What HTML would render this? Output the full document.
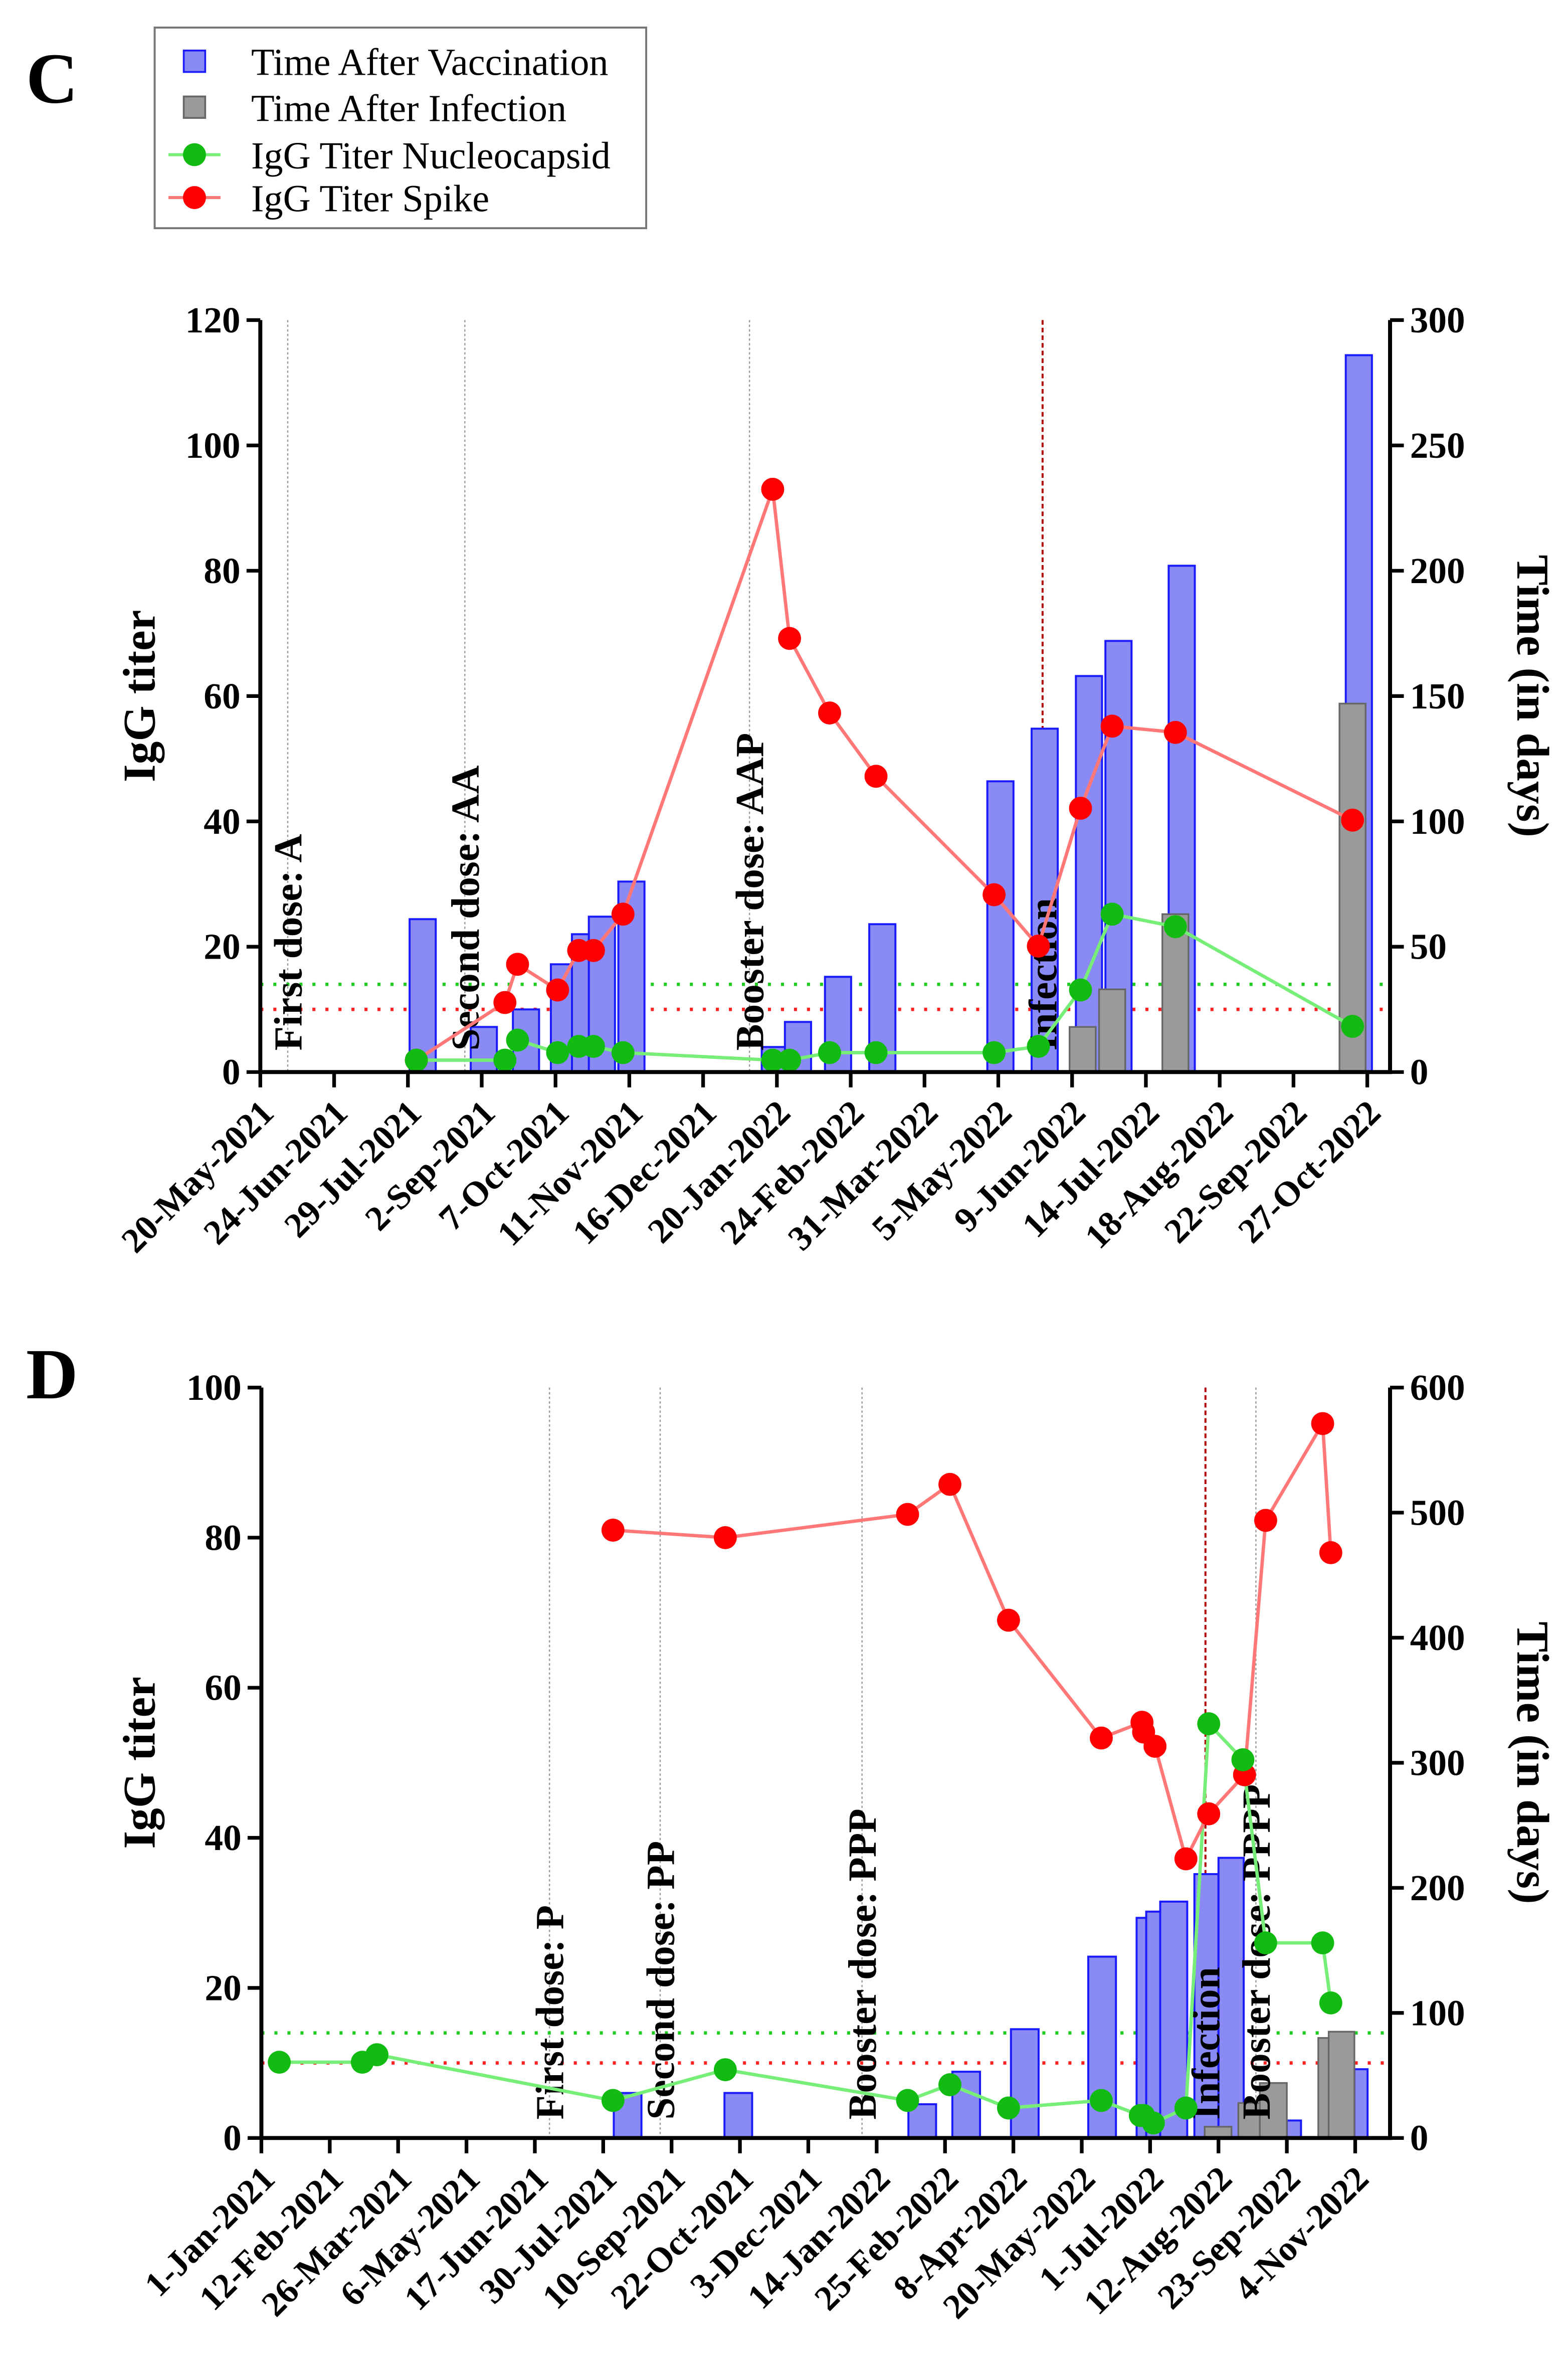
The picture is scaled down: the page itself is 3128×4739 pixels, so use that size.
<!DOCTYPE html>
<html><head><meta charset="utf-8"><title>IgG titer charts</title>
<style>
html,body{margin:0;padding:0;background:#fff;}
svg{display:block;}
text{font-family:"Liberation Serif",serif;}
</style></head>
<body>
<svg id="fig" xmlns="http://www.w3.org/2000/svg" width="3128" height="4739" viewBox="0 0 1024 1551.4">
<rect x="0" y="0" width="1024" height="1551.4" fill="#fff"/>
<text x="17" y="67" font-size="47" font-weight="bold">C</text>
<text x="17" y="913" font-size="47" font-weight="bold">D</text>
<g>
<rect x="101" y="18" width="321" height="131" fill="#fff" stroke="#777" stroke-width="1.3"/>
<g><rect x="120" y="33" width="14" height="14" fill="#8a8af5" stroke="#1a1aff" stroke-width="1.2"/><text x="164" y="49" font-size="25">Time After Vaccination</text></g>
<g><rect x="120" y="63" width="14" height="14" fill="#9a9a9a" stroke="#666" stroke-width="1.2"/><text x="164" y="79" font-size="25">Time After Infection</text></g>
<g><line x1="110" y1="101" x2="144" y2="101" stroke="#77ee77" stroke-width="2"/><circle cx="127" cy="101" r="7.5" fill="#11bb11"/><text x="164" y="110" font-size="25">IgG Titer Nucleocapsid</text></g>
<g><line x1="110" y1="129" x2="144" y2="129" stroke="#ff7777" stroke-width="2"/><circle cx="127" cy="129" r="7.5" fill="#ff0000"/><text x="164" y="138" font-size="25">IgG Titer Spike</text></g>
</g>
<g id="chartC"></g>
<g id="chartD"></g>
</svg>
<script>
// ---------- Chart C data (days since 20-May-2021) ----------
const cTickLabels = ["20-May-2021","24-Jun-2021","29-Jul-2021","2-Sep-2021","7-Oct-2021","11-Nov-2021","16-Dec-2021","20-Jan-2022","24-Feb-2022","31-Mar-2022","5-May-2022","9-Jun-2022","14-Jul-2022","18-Aug-2022","22-Sep-2022","27-Oct-2022"];
const cSpikeDays = [74,116,122,141,151,158,172,243,251,270,292,348,369,389,404,434,518];
const cSpikeVals = [1.9,11.1,17.2,13.1,19.4,19.4,25.2,93,69.2,57.3,47.2,28.3,20.1,42.1,55.2,54.2,40.2];
const cNucDays = [74,116,122,141,151,158,172,243,251,270,292,348,369,389,404,434,518];
const cNucVals = [1.9,1.9,5.1,3.1,4.1,4.1,3.1,1.9,1.9,3.1,3.1,3.1,4.1,13.1,25.2,23.2,7.3];
const cVacDays = [77,106,126,144,154,162,176,244,255,274,295,351,372,393,407,437,521];
const cVacVals = [61,18,25,43,55,62,76,10,20,38,59,116,137,158,172,202,286];
const cInfDays = [390,404,434,518];
const cInfVals = [18,33,63,147];
const cEventDays = [13,97,232,371];
const cEventLabels = ["First dose: A","Second dose: AA","Booster dose: AAP","Infection"];
const cLeftTicks = [0,20,40,60,80,100,120];
const cRightTicks = [0,50,100,150,200,250,300];

// ---------- Chart D data (days since 1-Jan-2021) ----------
const dTickLabels = ["1-Jan-2021","12-Feb-2021","26-Mar-2021","6-May-2021","17-Jun-2021","30-Jul-2021","10-Sep-2021","22-Oct-2021","3-Dec-2021","14-Jan-2022","25-Feb-2022","8-Apr-2022","20-May-2022","1-Jul-2022","12-Aug-2022","23-Sep-2022","4-Nov-2022"];
const dSpikeDays = [216,285,397,423,459,516,541,542,549,568,582,604,617,652,657];
const dSpikeVals = [81,80,83.1,87.1,69,53.3,55.4,54.1,52.2,37.2,43.2,48.4,82.3,95.2,78];
const dNucDays = [11,62,71,216,285,397,423,459,516,540,542,548,568,582,603,617,652,657];
const dNucVals = [10.1,10.1,11.1,5,9.1,5,7.1,4,5,3,3,2,4,55.2,50.4,26,26,18];
const dVacStart = [216.5,284.5,397.5,424.5,460.5,508,537.7,543.6,552.2,573.2,588,630,671.5];
const dVacEnd = [233.5,301.5,414.5,441.5,477.5,525,546.6,552.7,568.8,588,603.5,638.7,679.6];
const dVacVals = [36,36,27,53,87,145,176,181,189,211,224,14,55];
const dInfStart = [579.5,600.2,613.4,649.3,655.7];
const dInfEnd = [596,613.4,630,655.7,671.5];
const dInfVals = [9,28,44,80,85];
const dEventDays = [177,245,369,580,611];
const dEventLabels = ["First dose: P","Second dose: PP","Booster dose: PPP","Infection","Booster dose: PPPP"];
const dLeftTicks = [0,20,40,60,80,100];
const dRightTicks = [0,100,200,300,400,500,600];

const NS = "http://www.w3.org/2000/svg";
function mk(parent, tag, attrs, txt){
  const el = document.createElementNS(NS, tag);
  for (const k in attrs) el.setAttribute(k, attrs[k]);
  if (txt !== undefined) el.textContent = txt;
  parent.appendChild(el);
  return el;
}

function drawChart(g, cfg){
  const X = d => cfg.x0 + d * cfg.ppd;
  const YL = v => cfg.yBot - v / cfg.leftMax * (cfg.yBot - cfg.yTop);
  const YR = v => cfg.yBot - v / cfg.rightMax * (cfg.yBot - cfg.yTop);

  cfg.eventDays.forEach((d, i) => {
    const isInf = cfg.eventLabels[i] === "Infection";
    const ln = mk(g, "line", {x1:X(d), x2:X(d), y1:cfg.yTop, y2:cfg.yBot, stroke: isInf ? "#b00000" : "#999", "stroke-width": isInf ? 1.3 : 0.8, "stroke-dasharray": isInf ? "3,2" : "1.5,1.5"});
    
    
  });
  const th1 = mk(g, "line", {x1:cfg.x0, x2:cfg.x1, y1:YL(14), y2:YL(14), stroke:"#22cc22", "stroke-width":2.2, "stroke-dasharray":"2,6.5"});
  
  
  const th2 = mk(g, "line", {x1:cfg.x0, x2:cfg.x1, y1:YL(10), y2:YL(10), stroke:"#ff2222", "stroke-width":2.2, "stroke-dasharray":"2,6.5"});
  
  

  cfg.vacStart.forEach((s, i) => {
    const e = cfg.vacEnd[i], v = cfg.vacVals[i];
    const r = mk(g, "rect", {x:X(s), y:YR(v), width:X(e)-X(s), height:cfg.yBot-YR(v), fill:"#8a8af5", stroke:"#1a1aff", "stroke-width":1.3});
    
    
  });
  cfg.infStart.forEach((s, i) => {
    const e = cfg.infEnd[i], v = cfg.infVals[i];
    const r = mk(g, "rect", {x:X(s), y:YR(v), width:X(e)-X(s), height:cfg.yBot-YR(v), fill:"#9a9a9a", stroke:"#666", "stroke-width":1.1});
    
    
  });

  cfg.eventDays.forEach((d, i) => {
    const t = mk(g, "text", {transform:`translate(${X(d)+9},${cfg.labelY}) rotate(-90)`, "font-size":26, "font-weight":"bold"}, cfg.eventLabels[i]);
    
    
  });

  const nucPts = cfg.nucDays.map((d, i) => X(d) + "," + YL(cfg.nucVals[i])).join(" ");
  const nl = mk(g, "polyline", {points:nucPts, fill:"none", stroke:"#77ee77", "stroke-width":2.2});
  
  
  const spPts = cfg.spDays.map((d, i) => X(d) + "," + YL(cfg.spVals[i])).join(" ");
  const sl = mk(g, "polyline", {points:spPts, fill:"none", stroke:"#ff7777", "stroke-width":2.2});
  
  
  cfg.spDays.forEach((d, i) => {
    const c = mk(g, "circle", {cx:X(d), cy:YL(cfg.spVals[i]), r:7.5, fill:"#ff0000"});
    
    
  });
  cfg.nucDays.forEach((d, i) => {
    const c = mk(g, "circle", {cx:X(d), cy:YL(cfg.nucVals[i]), r:7.5, fill:"#11bb11"});
    
    
  });

  const ax = mk(g, "path", {d:`M${cfg.x0},${cfg.yTop} V${cfg.yBot} H${cfg.x1} V${cfg.yTop}`, fill:"none", stroke:"#000", "stroke-width":2.6});
  
  
  cfg.leftTicks.forEach(v => {
    const tk = mk(g, "line", {x1:cfg.x0-9, x2:cfg.x0, y1:YL(v), y2:YL(v), stroke:"#000", "stroke-width":2.4});
    
    
    const t = mk(g, "text", {x:cfg.x0-13, y:YL(v)+8, "text-anchor":"end", "font-size":24, "font-weight":"bold"}, String(v));
    
    
  });
  cfg.rightTicks.forEach(v => {
    const tk = mk(g, "line", {x1:cfg.x1, x2:cfg.x1+9, y1:YR(v), y2:YR(v), stroke:"#000", "stroke-width":2.4});
    
    
    const t = mk(g, "text", {x:cfg.x1+13, y:YR(v)+8, "text-anchor":"start", "font-size":24, "font-weight":"bold"}, String(v));
    
    
  });
  cfg.tickLabels.forEach((lab, i) => {
    const x = X(i * cfg.tickStep);
    const tk = mk(g, "line", {x1:x, x2:x, y1:cfg.yBot, y2:cfg.yBot+10, stroke:"#000", "stroke-width":2.4});
    
    
    const t = mk(g, "text", {transform:`translate(${x+10},${cfg.yBot+28}) rotate(-45)`, "text-anchor":"end", "font-size":23, "font-weight":"bold"}, lab);
    
    
  });
  const mid = (cfg.yTop + cfg.yBot) / 2;
  const yl = mk(g, "text", {transform:`translate(101,${mid}) rotate(-90)`, "text-anchor":"middle", "font-size":30, "font-weight":"bold"}, "IgG titer");
  
  
  const yr = mk(g, "text", {transform:`translate(991,${mid}) rotate(90)`, "text-anchor":"middle", "font-size":30, "font-weight":"bold"}, "Time (in days)");
  
  
}

const cHalf = 6.2;
drawChart(document.getElementById("chartC"), {
  x0:170, x1:907.8, yTop:209, yBot:700, ppd:1.377, leftMax:120, rightMax:300, tickStep:35, labelY:686,
  tickLabels:cTickLabels, leftTicks:cLeftTicks, rightTicks:cRightTicks,
  spDays:cSpikeDays, spVals:cSpikeVals, nucDays:cNucDays, nucVals:cNucVals,
  vacStart:cVacDays.map(d => d - cHalf), vacEnd:cVacDays.map(d => d + cHalf), vacVals:cVacVals,
  infStart:cInfDays.map(d => d - cHalf), infEnd:cInfDays.map(d => d + cHalf), infVals:cInfVals,
  eventDays:cEventDays, eventLabels:cEventLabels
});
drawChart(document.getElementById("chartD"), {
  x0:170.7, x1:907.8, yTop:906, yBot:1396, ppd:1.063, leftMax:100, rightMax:600, tickStep:42, labelY:1384,
  tickLabels:dTickLabels, leftTicks:dLeftTicks, rightTicks:dRightTicks,
  spDays:dSpikeDays, spVals:dSpikeVals, nucDays:dNucDays, nucVals:dNucVals,
  vacStart:dVacStart, vacEnd:dVacEnd, vacVals:dVacVals,
  infStart:dInfStart, infEnd:dInfEnd, infVals:dInfVals,
  eventDays:dEventDays, eventLabels:dEventLabels
});
</script>
</body></html>
